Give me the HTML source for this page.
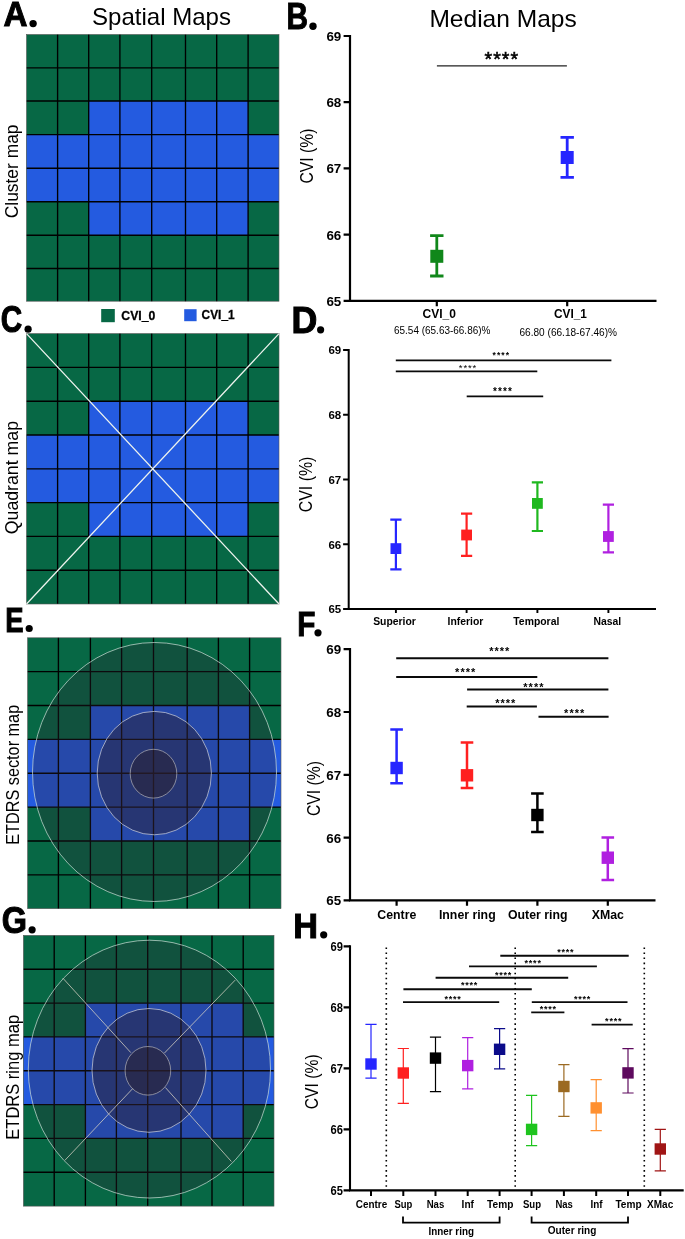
<!DOCTYPE html>
<html><head><meta charset="utf-8"><title>Figure</title>
<style>
html,body{margin:0;padding:0;background:#fff;}
svg{display:block;font-family:"Liberation Sans",sans-serif;will-change:transform;}
</style></head><body>
<svg width="685" height="1239" viewBox="0 0 685 1239">
<rect width="685" height="1239" fill="#fff"/>
<g id="gA">
<rect x="26.5" y="34.5" width="252.5" height="266.7" fill="#076845"/>
<rect x="26.5" y="134.6" width="252.5" height="67.1" fill="#245be0"/>
<rect x="88.7" y="101" width="159.39999999999998" height="134.2" fill="#245be0"/>
</g>
<path d="M57.6 34.5V301.2M88.7 34.5V301.2M119.9 34.5V301.2M151.7 34.5V301.2M185.5 34.5V301.2M216.7 34.5V301.2M248.1 34.5V301.2M26.5 67.8H279M26.5 101H279M26.5 134.6H279M26.5 168.2H279M26.5 201.7H279M26.5 235.2H279M26.5 268.5H279" stroke="#000" stroke-width="1.35" fill="none" opacity="1"/>
<rect x="26.5" y="34.5" width="252.5" height="266.7" fill="none" stroke="#555" stroke-width="0.6"/>
<g id="gC">
<rect x="26.5" y="333.6" width="252.5" height="270.4" fill="#076845"/>
<rect x="26.5" y="435.0" width="252.5" height="67.60000000000002" fill="#245be0"/>
<rect x="88.7" y="401.2" width="159.39999999999998" height="135.2" fill="#245be0"/>
</g>
<path d="M57.6 333.6V604.0M88.7 333.6V604.0M119.9 333.6V604.0M151.7 333.6V604.0M185.5 333.6V604.0M216.7 333.6V604.0M248.1 333.6V604.0M26.5 367.4H279M26.5 401.2H279M26.5 435.0H279M26.5 468.8H279M26.5 502.6H279M26.5 536.4H279M26.5 570.2H279" stroke="#000" stroke-width="1.35" fill="none" opacity="1"/>
<rect x="26.5" y="333.6" width="252.5" height="270.4" fill="none" stroke="#555" stroke-width="0.6"/>
<path d="M26.5 333.6L279 604.0M279 333.6L26.5 604.0" stroke="#eef3ee" stroke-width="1.3" fill="none"/>
<g id="gE">
<rect x="27.6" y="637.8" width="253.4" height="270.88" fill="#076845"/>
<rect x="27.6" y="739.38" width="253.4" height="67.72000000000003" fill="#245be0"/>
<rect x="90.4" y="705.52" width="159.2" height="135.44000000000005" fill="#245be0"/>
</g>
<path d="M58.4 637.8V908.68M90.4 637.8V908.68M121.6 637.8V908.68M153.5 637.8V908.68M187.2 637.8V908.68M218.4 637.8V908.68M249.6 637.8V908.68M27.6 671.66H281M27.6 705.52H281M27.6 739.38H281M27.6 773.24H281M27.6 807.1H281M27.6 840.96H281M27.6 874.82H281" stroke="#000" stroke-width="1.35" fill="none" opacity="1"/>
<rect x="27.6" y="637.8" width="253.4" height="270.88" fill="none" stroke="#555" stroke-width="0.6"/>
<ellipse cx="154.5" cy="772" rx="122" ry="129.5" fill="#2a2030" fill-opacity="0.30" stroke="#cfe0d8" stroke-opacity="0.7" stroke-width="1.0"/>
<ellipse cx="154.3" cy="773.1" rx="57.1" ry="61.7" fill="#2a2030" fill-opacity="0.45" stroke="#d0d4e0" stroke-opacity="0.7" stroke-width="1.0"/>
<ellipse cx="153.5" cy="773.7" rx="23.3" ry="24.4" fill="#2a2030" fill-opacity="0.50" stroke="#b0b0b8" stroke-opacity="0.7" stroke-width="1.0"/>
<g id="gG">
<rect x="23.4" y="935.4" width="250.6" height="270.7199999999999" fill="#076845"/>
<rect x="23.4" y="1036.92" width="250.6" height="67.67999999999984" fill="#245be0"/>
<rect x="85.4" y="1003.08" width="157.79999999999998" height="135.36" fill="#245be0"/>
</g>
<path d="M54.2 935.4V1206.12M85.4 935.4V1206.12M116.4 935.4V1206.12M147.7 935.4V1206.12M181 935.4V1206.12M212 935.4V1206.12M243.2 935.4V1206.12M23.4 969.24H274M23.4 1003.08H274M23.4 1036.92H274M23.4 1070.76H274M23.4 1104.6H274M23.4 1138.44H274M23.4 1172.28H274" stroke="#000" stroke-width="1.35" fill="none" opacity="1"/>
<rect x="23.4" y="935.4" width="250.6" height="270.7199999999999" fill="none" stroke="#555" stroke-width="0.6"/>
<ellipse cx="149.4" cy="1069.1" rx="121.1" ry="128.9" fill="#2a2030" fill-opacity="0.30" stroke="#cfe0d8" stroke-opacity="0.7" stroke-width="1.0"/>
<ellipse cx="149" cy="1070.4" rx="57" ry="61.9" fill="#2a2030" fill-opacity="0.45" stroke="#d0d4e0" stroke-opacity="0.7" stroke-width="1.0"/>
<ellipse cx="147.9" cy="1070.8" rx="22.8" ry="24.3" fill="#2a2030" fill-opacity="0.50" stroke="#b0b0b8" stroke-opacity="0.7" stroke-width="1.0"/>
<path d="M62.9 978.2L130.8 1052.6M235.2 980.1L164.2 1053.3M64.8 1160.4L132.7 1088.6M231.4 1161.5L165.4 1087.5" stroke="#d8d2c4" stroke-opacity="0.85" stroke-width="0.9" fill="none"/>
<rect x="101.2" y="309" width="13.6" height="13.2" fill="#076845"/>
<rect x="184.2" y="309.2" width="12.4" height="12" fill="#245be0"/>
<text x="121.3" y="320.2" font-size="13" font-weight="bold" text-anchor="start" fill="#000" textLength="34" lengthAdjust="spacingAndGlyphs" stroke="#000" stroke-width="0.3">CVI_0</text>
<text x="201.6" y="319.2" font-size="13" font-weight="bold" text-anchor="start" fill="#000" textLength="33" lengthAdjust="spacingAndGlyphs" stroke="#000" stroke-width="0.3">CVI_1</text>
<text x="92" y="24.5" font-size="23.4" font-weight="normal" text-anchor="start" fill="#000" textLength="139" lengthAdjust="spacingAndGlyphs" >Spatial Maps</text>
<text x="429.4" y="26.5" font-size="23.2" font-weight="normal" text-anchor="start" fill="#000" textLength="147.4" lengthAdjust="spacingAndGlyphs" >Median Maps</text>
<text x="18.1" y="218.3" font-size="18.0" font-weight="normal" text-anchor="start" fill="#000" textLength="93.8" lengthAdjust="spacingAndGlyphs" transform="rotate(-90 18.1 218.3)" >Cluster map</text>
<text x="18.1" y="534.2" font-size="18.0" font-weight="normal" text-anchor="start" fill="#000" textLength="113.2" lengthAdjust="spacingAndGlyphs" transform="rotate(-90 18.1 534.2)" >Quadrant map</text>
<text x="19" y="844.8" font-size="18.0" font-weight="normal" text-anchor="start" fill="#000" textLength="140" lengthAdjust="spacingAndGlyphs" transform="rotate(-90 19 844.8)" >ETDRS sector map</text>
<text x="19.4" y="1139.7" font-size="18.0" font-weight="normal" text-anchor="start" fill="#000" textLength="124.8" lengthAdjust="spacingAndGlyphs" transform="rotate(-90 19.4 1139.7)" >ETDRS ring map</text>
<text transform="translate(3.54 26.20) scale(0.9361 0.9963)" x="0" y="0" font-size="35.5" font-weight="bold" stroke="#000" stroke-width="1.0" stroke-linejoin="miter">A</text>
<circle cx="33.1" cy="23.6" r="3.7"/>
<text transform="translate(286.38 29.29) scale(0.8387 1.0159)" x="0" y="0" font-size="35.5" font-weight="bold" stroke="#000" stroke-width="1.0" stroke-linejoin="miter">B</text>
<circle cx="313" cy="26.3" r="3.7"/>
<text transform="translate(0.83 332.23) scale(0.8370 1.0189)" x="0" y="0" font-size="35.5" font-weight="bold" stroke="#000" stroke-width="1.0" stroke-linejoin="miter">C</text>
<circle cx="28.1" cy="329.2" r="3.6"/>
<text transform="translate(291.48 332.79) scale(1.0073 1.0159)" x="0" y="0" font-size="35.5" font-weight="bold" stroke="#000" stroke-width="1.0" stroke-linejoin="miter">D</text>
<circle cx="320.6" cy="329.8" r="3.6"/>
<text transform="translate(5.20 631.71) scale(0.7741 0.9884)" x="0" y="0" font-size="35.5" font-weight="bold" stroke="#000" stroke-width="1.0" stroke-linejoin="miter">E</text>
<circle cx="29.2" cy="628.5" r="3.6"/>
<text transform="translate(297.29 635.58) scale(0.8375 1.0033)" x="0" y="0" font-size="35.5" font-weight="bold" stroke="#000" stroke-width="1.0" stroke-linejoin="miter">F</text>
<circle cx="318" cy="632.8" r="3.6"/>
<text transform="translate(1.76 932.82) scale(0.9134 1.0342)" x="0" y="0" font-size="35.5" font-weight="bold" stroke="#000" stroke-width="1.0" stroke-linejoin="miter">G</text>
<circle cx="32.1" cy="929.8" r="3.6"/>
<text transform="translate(293.15 937.60) scale(0.9661 0.9963)" x="0" y="0" font-size="35.5" font-weight="bold" stroke="#000" stroke-width="1.0" stroke-linejoin="miter">H</text>
<circle cx="323.7" cy="934.8" r="3.6"/>
<path d="M350 34.9V300.8H656.5" stroke="#000" stroke-width="2.2" fill="none"/>
<text x="341.3" y="41.0" font-size="13.4" font-weight="bold" text-anchor="end" fill="#000" >69</text>
<text x="341.3" y="107.2" font-size="13.4" font-weight="bold" text-anchor="end" fill="#000" >68</text>
<text x="341.3" y="173.4" font-size="13.4" font-weight="bold" text-anchor="end" fill="#000" >67</text>
<text x="341.3" y="239.6" font-size="13.4" font-weight="bold" text-anchor="end" fill="#000" >66</text>
<text x="341.3" y="305.8" font-size="13.4" font-weight="bold" text-anchor="end" fill="#000" >65</text>
<path d="M343.6 36.0H350M343.6 102.2H350M343.6 168.4H350M343.6 234.60000000000002H350M343.6 300.8H350" stroke="#000" stroke-width="2.2" fill="none"/>
<path d="M436.8 300.2V306.2M567.2 300.2V306.2" stroke="#000" stroke-width="2.2" fill="none"/>
<path d="M436.8 235.6V276M430.1 235.6H443.5M430.1 276H443.5" stroke="#10871a" stroke-width="2.8" fill="none"/>
<rect x="430.3" y="249.8" width="13" height="13" fill="#10871a"/>
<path d="M567.2 137.4V177.4M560.5 137.4H573.9000000000001M560.5 177.4H573.9000000000001" stroke="#2626ff" stroke-width="2.8" fill="none"/>
<rect x="560.7" y="151.0" width="13" height="13" fill="#2626ff"/>
<path d="M436.9 65.8H566.9" stroke="#222" stroke-width="1.3"/>
<text x="484.6" y="66.3" font-size="19.5" textLength="33.4" lengthAdjust="spacing" stroke="#000" stroke-width="0.55">****</text>
<text x="439.3" y="318" font-size="12.5" font-weight="bold" text-anchor="middle" fill="#000" textLength="33.4" lengthAdjust="spacingAndGlyphs" >CVI_0</text>
<text x="570.4" y="318" font-size="12.5" font-weight="bold" text-anchor="middle" fill="#000" textLength="33" lengthAdjust="spacingAndGlyphs" >CVI_1</text>
<text x="394" y="333.6" font-size="10" font-weight="normal" text-anchor="start" fill="#000" textLength="96.4" lengthAdjust="spacingAndGlyphs" >65.54 (65.63-66.86)%</text>
<text x="519.5" y="336" font-size="10" font-weight="normal" text-anchor="start" fill="#000" textLength="97.5" lengthAdjust="spacingAndGlyphs" >66.80 (66.18-67.46)%</text>
<text x="312.6" y="183.5" font-size="19" font-weight="normal" text-anchor="start" fill="#000" textLength="55" lengthAdjust="spacingAndGlyphs" transform="rotate(-90 312.6 183.5)" >CVI (%)</text>
<path d="M348.7 348.9V608.9H656" stroke="#000" stroke-width="2.0" fill="none"/>
<text x="341.2" y="354.2" font-size="11.5" font-weight="bold" text-anchor="end" fill="#000" >69</text>
<text x="341.2" y="419.0" font-size="11.5" font-weight="bold" text-anchor="end" fill="#000" >68</text>
<text x="341.2" y="483.7" font-size="11.5" font-weight="bold" text-anchor="end" fill="#000" >67</text>
<text x="341.2" y="548.5" font-size="11.5" font-weight="bold" text-anchor="end" fill="#000" >66</text>
<text x="341.2" y="613.2" font-size="11.5" font-weight="bold" text-anchor="end" fill="#000" >65</text>
<path d="M343.09999999999997 349.9H348.7M343.09999999999997 414.65H348.7M343.09999999999997 479.4H348.7M343.09999999999997 544.15H348.7M343.09999999999997 608.9H348.7" stroke="#000" stroke-width="2.0" fill="none"/>
<path d="M395.9 609V613M466.6 609V613M537.4 609V613M608.4 609V613" stroke="#000" stroke-width="1.9" fill="none"/>
<path d="M395.9 519.6V569.4M390.29999999999995 519.6H401.5M390.29999999999995 569.4H401.5" stroke="#2626ff" stroke-width="2.2" fill="none"/>
<rect x="390.5" y="543.2" width="10.8" height="10.8" fill="#2626ff"/>
<path d="M466.6 513.6V555.8M461.0 513.6H472.20000000000005M461.0 555.8H472.20000000000005" stroke="#ff2020" stroke-width="2.2" fill="none"/>
<rect x="461.20000000000005" y="529.6" width="10.8" height="10.8" fill="#ff2020"/>
<path d="M537.4 482.3V531M531.8 482.3H543.0M531.8 531H543.0" stroke="#1fb81f" stroke-width="2.2" fill="none"/>
<rect x="532.0" y="498.0" width="10.8" height="10.8" fill="#1fb81f"/>
<path d="M608.4 504.7V552.3M602.8 504.7H614.0M602.8 552.3H614.0" stroke="#b020e0" stroke-width="2.2" fill="none"/>
<rect x="603.0" y="531.1" width="10.8" height="10.8" fill="#b020e0"/>
<path d="M395.8 360.4H611.4" stroke="#0a0a0a" stroke-width="1.7"/>
<text y="357.99" font-size="8.5" font-weight="bold" x="492.5" textLength="16.6" lengthAdjust="spacing">****</text>
<path d="M395.8 371.4H537.3" stroke="#0a0a0a" stroke-width="1.7"/>
<text y="370.6" font-size="9.5" font-weight="normal" x="458.85" textLength="17.3" lengthAdjust="spacing">****</text>
<path d="M466.7 396.4H543.2" stroke="#0a0a0a" stroke-width="1.7"/>
<text y="395.25" font-size="10" font-weight="bold" x="493.0" textLength="18.8" lengthAdjust="spacing">****</text>
<text x="394.5" y="625" font-size="10.4" font-weight="bold" text-anchor="middle" fill="#000" >Superior</text>
<text x="465.4" y="625" font-size="10.4" font-weight="bold" text-anchor="middle" fill="#000" >Inferior</text>
<text x="536.3" y="625" font-size="10.4" font-weight="bold" text-anchor="middle" fill="#000" >Temporal</text>
<text x="607.3" y="625" font-size="10.4" font-weight="bold" text-anchor="middle" fill="#000" >Nasal</text>
<text x="311.9" y="512.2" font-size="19" font-weight="normal" text-anchor="start" fill="#000" textLength="55.6" lengthAdjust="spacingAndGlyphs" transform="rotate(-90 311.9 512.2)" >CVI (%)</text>
<path d="M350 648.1V900.4000000000001H655.5" stroke="#000" stroke-width="2.2" fill="none"/>
<text x="341.1" y="654.2" font-size="13.4" font-weight="bold" text-anchor="end" fill="#000" >69</text>
<text x="341.1" y="717.0" font-size="13.4" font-weight="bold" text-anchor="end" fill="#000" >68</text>
<text x="341.1" y="779.8" font-size="13.4" font-weight="bold" text-anchor="end" fill="#000" >67</text>
<text x="341.1" y="842.6" font-size="13.4" font-weight="bold" text-anchor="end" fill="#000" >66</text>
<text x="341.1" y="905.4" font-size="13.4" font-weight="bold" text-anchor="end" fill="#000" >65</text>
<path d="M343.6 649.2H350M343.6 712.0H350M343.6 774.8000000000001H350M343.6 837.6H350M343.6 900.4000000000001H350" stroke="#000" stroke-width="2.2" fill="none"/>
<path d="M396.6 900.4V905.8M467 900.4V905.8M537.4 900.4V905.8M607.8 900.4V905.8" stroke="#000" stroke-width="2.2" fill="none"/>
<path d="M396.6 729.4V783.2M390.3 729.4H402.90000000000003M390.3 783.2H402.90000000000003" stroke="#2626ff" stroke-width="2.5" fill="none"/>
<rect x="390.40000000000003" y="761.8" width="12.4" height="12.4" fill="#2626ff"/>
<path d="M467 742.4V788M460.7 742.4H473.3M460.7 788H473.3" stroke="#ff2020" stroke-width="2.5" fill="none"/>
<rect x="460.8" y="769.0999999999999" width="12.4" height="12.4" fill="#ff2020"/>
<path d="M537.4 793.6V832.1M531.1 793.6H543.6999999999999M531.1 832.1H543.6999999999999" stroke="#000" stroke-width="2.5" fill="none"/>
<rect x="531.1999999999999" y="808.8" width="12.4" height="12.4" fill="#000"/>
<path d="M607.8 837.4V880.1M601.5 837.4H614.0999999999999M601.5 880.1H614.0999999999999" stroke="#b020e0" stroke-width="2.5" fill="none"/>
<rect x="601.5999999999999" y="851.5" width="12.4" height="12.4" fill="#b020e0"/>
<path d="M396.2 658.3H608.4" stroke="#0a0a0a" stroke-width="2.0"/>
<text y="654.75" font-size="11" font-weight="bold" x="489.2" textLength="20.2" lengthAdjust="spacing">****</text>
<path d="M396.2 676.9H537.3" stroke="#0a0a0a" stroke-width="2.0"/>
<text y="676.25" font-size="11" font-weight="bold" x="455.1" textLength="20.2" lengthAdjust="spacing">****</text>
<path d="M467.1 689.6H608.4" stroke="#0a0a0a" stroke-width="2.0"/>
<text y="690.75" font-size="11" font-weight="bold" x="523.3" textLength="20.2" lengthAdjust="spacing">****</text>
<path d="M466.7 706.5H536.9" stroke="#0a0a0a" stroke-width="2.0"/>
<text y="706.55" font-size="11" font-weight="bold" x="495.2" textLength="20.2" lengthAdjust="spacing">****</text>
<path d="M538.5 716.8H608.6" stroke="#0a0a0a" stroke-width="2.0"/>
<text y="716.65" font-size="11" font-weight="bold" x="564.1" textLength="20.2" lengthAdjust="spacing">****</text>
<text x="396.8" y="919" font-size="12.3" font-weight="bold" text-anchor="middle" fill="#000" >Centre</text>
<text x="467.3" y="919" font-size="12.3" font-weight="bold" text-anchor="middle" fill="#000" >Inner ring</text>
<text x="537.7" y="919" font-size="12.3" font-weight="bold" text-anchor="middle" fill="#000" >Outer ring</text>
<text x="607.8" y="919" font-size="12.3" font-weight="bold" text-anchor="middle" fill="#000" >XMac</text>
<text x="319.7" y="816.1" font-size="19" font-weight="normal" text-anchor="start" fill="#000" textLength="55.2" lengthAdjust="spacingAndGlyphs" transform="rotate(-90 319.7 816.1)" >CVI (%)</text>
<path d="M350 945.35V1190.4H683.7" stroke="#000" stroke-width="2.1" fill="none"/>
<text x="343" y="951.0" font-size="12.2" font-weight="bold" text-anchor="end" fill="#000" textLength="12.4" lengthAdjust="spacingAndGlyphs" >69</text>
<text x="343" y="1012.0" font-size="12.2" font-weight="bold" text-anchor="end" fill="#000" textLength="12.4" lengthAdjust="spacingAndGlyphs" >68</text>
<text x="343" y="1073.0" font-size="12.2" font-weight="bold" text-anchor="end" fill="#000" textLength="12.4" lengthAdjust="spacingAndGlyphs" >67</text>
<text x="343" y="1134.0" font-size="12.2" font-weight="bold" text-anchor="end" fill="#000" textLength="12.4" lengthAdjust="spacingAndGlyphs" >66</text>
<text x="343" y="1195.0" font-size="12.2" font-weight="bold" text-anchor="end" fill="#000" textLength="12.4" lengthAdjust="spacingAndGlyphs" >65</text>
<path d="M343.6 946.4H350M343.6 1007.4H350M343.6 1068.4H350M343.6 1129.4H350M343.6 1190.4H350" stroke="#000" stroke-width="2.1" fill="none"/>
<path d="M371 1190.5V1196.1M403.3 1190.5V1196.1M435.5 1190.5V1196.1M467.7 1190.5V1196.1M499.6 1190.5V1196.1M531.6 1190.5V1196.1M563.9 1190.5V1196.1M596.2 1190.5V1196.1M628 1190.5V1196.1M660.3 1190.5V1196.1" stroke="#000" stroke-width="2.0" fill="none"/>
<path d="M371 1024.4V1078.2M365.4 1024.4H376.6M365.4 1078.2H376.6" stroke="#2626ff" stroke-width="1.2" fill="none"/>
<rect x="365.3" y="1058.3" width="11.4" height="11.4" fill="#2626ff"/>
<path d="M403.3 1048.5V1103.3M397.7 1048.5H408.90000000000003M397.7 1103.3H408.90000000000003" stroke="#ff2020" stroke-width="1.2" fill="none"/>
<rect x="397.6" y="1067.3" width="11.4" height="11.4" fill="#ff2020"/>
<path d="M435.5 1037.1V1091.7M429.9 1037.1H441.1M429.9 1091.7H441.1" stroke="#000" stroke-width="1.2" fill="none"/>
<rect x="429.8" y="1052.3999999999999" width="11.4" height="11.4" fill="#000"/>
<path d="M467.7 1037.6V1088.8M462.09999999999997 1037.6H473.3M462.09999999999997 1088.8H473.3" stroke="#b020e0" stroke-width="1.2" fill="none"/>
<rect x="462.0" y="1059.8999999999999" width="11.4" height="11.4" fill="#b020e0"/>
<path d="M499.6 1028.7V1068.9M494.0 1028.7H505.20000000000005M494.0 1068.9H505.20000000000005" stroke="#0b0b8a" stroke-width="1.2" fill="none"/>
<rect x="493.90000000000003" y="1043.6" width="11.4" height="11.4" fill="#0b0b8a"/>
<path d="M531.6 1095.4V1145.6M526.0 1095.4H537.2M526.0 1145.6H537.2" stroke="#1ec41e" stroke-width="1.2" fill="none"/>
<rect x="525.9" y="1123.7" width="11.4" height="11.4" fill="#1ec41e"/>
<path d="M563.9 1064.7V1116.4M558.3 1064.7H569.5M558.3 1116.4H569.5" stroke="#9b6a22" stroke-width="1.2" fill="none"/>
<rect x="558.1999999999999" y="1080.8" width="11.4" height="11.4" fill="#9b6a22"/>
<path d="M596.2 1079.6V1130.6M590.6 1079.6H601.8000000000001M590.6 1130.6H601.8000000000001" stroke="#ff9030" stroke-width="1.2" fill="none"/>
<rect x="590.5" y="1102.2" width="11.4" height="11.4" fill="#ff9030"/>
<path d="M628 1048.6V1093M622.4 1048.6H633.6M622.4 1093H633.6" stroke="#5e0a5e" stroke-width="1.2" fill="none"/>
<rect x="622.3" y="1067.2" width="11.4" height="11.4" fill="#5e0a5e"/>
<path d="M660.3 1129.3V1170.8M654.6999999999999 1129.3H665.9M654.6999999999999 1170.8H665.9" stroke="#a01515" stroke-width="1.2" fill="none"/>
<rect x="654.5999999999999" y="1143.3" width="11.4" height="11.4" fill="#a01515"/>
<path d="M386.3 947.4V1188" stroke="#000" stroke-width="1.6" stroke-dasharray="1.6 3.46" fill="none"/>
<path d="M515.2 947.4V1188" stroke="#000" stroke-width="1.6" stroke-dasharray="1.6 3.46" fill="none"/>
<path d="M644.3 947.4V1188" stroke="#000" stroke-width="1.6" stroke-dasharray="1.6 3.46" fill="none"/>
<path d="M500.3 955.7H628.7" stroke="#0a0a0a" stroke-width="1.9"/>
<text y="955.04" font-size="9" font-weight="bold" x="557.2" textLength="16.4" lengthAdjust="spacing">****</text>
<path d="M469 966.4H596.9" stroke="#0a0a0a" stroke-width="1.9"/>
<text y="966.25" font-size="9" font-weight="bold" x="524.5" textLength="16.4" lengthAdjust="spacing">****</text>
<path d="M435.6 977.8H568.2" stroke="#0a0a0a" stroke-width="1.9"/>
<text y="977.64" font-size="9" font-weight="bold" x="494.9" textLength="16.4" lengthAdjust="spacing">****</text>
<path d="M403.4 989.3H531.8" stroke="#0a0a0a" stroke-width="1.9"/>
<text y="988.44" font-size="9" font-weight="bold" x="460.9" textLength="16.4" lengthAdjust="spacing">****</text>
<path d="M403 1002.1H499.2" stroke="#0a0a0a" stroke-width="1.9"/>
<text y="1002.44" font-size="9" font-weight="bold" x="444.4" textLength="16.4" lengthAdjust="spacing">****</text>
<path d="M531.8 1002.1H627.5" stroke="#0a0a0a" stroke-width="1.9"/>
<text y="1001.54" font-size="9" font-weight="bold" x="573.9" textLength="16.4" lengthAdjust="spacing">****</text>
<path d="M531.2 1012.4H564.4" stroke="#0a0a0a" stroke-width="1.9"/>
<text y="1012.44" font-size="9" font-weight="bold" x="539.7" textLength="16.4" lengthAdjust="spacing">****</text>
<path d="M591.6 1024.6H632.7" stroke="#0a0a0a" stroke-width="1.9"/>
<text y="1023.84" font-size="9" font-weight="bold" x="605.1" textLength="16.4" lengthAdjust="spacing">****</text>
<text x="355.8" y="1208.4" font-size="11" font-weight="bold" text-anchor="start" fill="#000" textLength="31.4" lengthAdjust="spacingAndGlyphs" >Centre</text>
<text x="394.4" y="1208.4" font-size="11" font-weight="bold" text-anchor="start" fill="#000" textLength="17.9" lengthAdjust="spacingAndGlyphs" >Sup</text>
<text x="426.7" y="1208.4" font-size="11" font-weight="bold" text-anchor="start" fill="#000" textLength="17.6" lengthAdjust="spacingAndGlyphs" >Nas</text>
<text x="461.6" y="1208.4" font-size="11" font-weight="bold" text-anchor="start" fill="#000" textLength="12.4" lengthAdjust="spacingAndGlyphs" >Inf</text>
<text x="487.1" y="1208.4" font-size="11" font-weight="bold" text-anchor="start" fill="#000" textLength="26.3" lengthAdjust="spacingAndGlyphs" >Temp</text>
<text x="522.9" y="1208.4" font-size="11" font-weight="bold" text-anchor="start" fill="#000" textLength="18.1" lengthAdjust="spacingAndGlyphs" >Sup</text>
<text x="555.4" y="1208.4" font-size="11" font-weight="bold" text-anchor="start" fill="#000" textLength="17.4" lengthAdjust="spacingAndGlyphs" >Nas</text>
<text x="590.4" y="1208.4" font-size="11" font-weight="bold" text-anchor="start" fill="#000" textLength="12.1" lengthAdjust="spacingAndGlyphs" >Inf</text>
<text x="615.4" y="1208.4" font-size="11" font-weight="bold" text-anchor="start" fill="#000" textLength="26.2" lengthAdjust="spacingAndGlyphs" >Temp</text>
<text x="647.1" y="1208.4" font-size="11" font-weight="bold" text-anchor="start" fill="#000" textLength="26.1" lengthAdjust="spacingAndGlyphs" >XMac</text>
<path d="M403 1216.6V1222.6H499.6V1216.6" stroke="#000" stroke-width="1.8" fill="none"/>
<path d="M531.6 1216.6V1222.6H628V1216.6" stroke="#000" stroke-width="1.8" fill="none"/>
<text x="428.5" y="1235.2" font-size="11" font-weight="bold" text-anchor="start" fill="#000" textLength="45.5" lengthAdjust="spacingAndGlyphs" >Inner ring</text>
<text x="547.8" y="1233.6" font-size="11" font-weight="bold" text-anchor="start" fill="#000" textLength="48.6" lengthAdjust="spacingAndGlyphs" >Outer ring</text>
<text x="317.6" y="1109.2" font-size="19" font-weight="normal" text-anchor="start" fill="#000" textLength="54.8" lengthAdjust="spacingAndGlyphs" transform="rotate(-90 317.6 1109.2)" >CVI (%)</text>
</svg>
</body></html>
